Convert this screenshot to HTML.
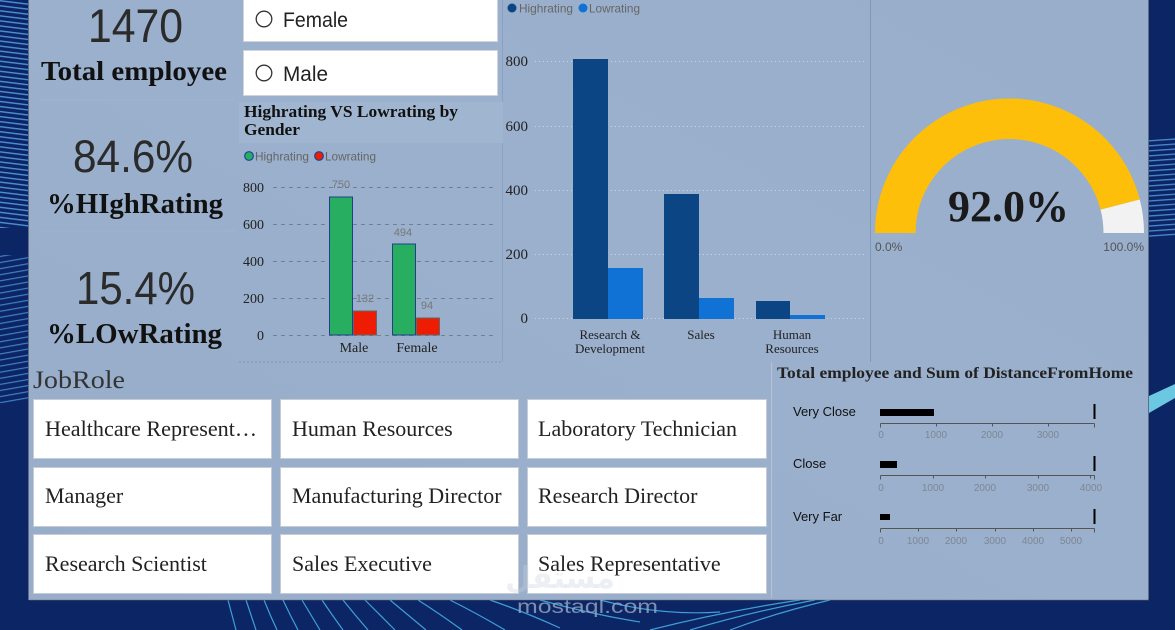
<!DOCTYPE html>
<html><head><meta charset="utf-8"><style>
html,body{margin:0;padding:0;width:1175px;height:630px;overflow:hidden;background:#0c2565;}
svg{display:block}
</style></head><body>
<svg width="1175" height="630" viewBox="0 0 1175 630" xmlns="http://www.w3.org/2000/svg">
<defs>
<pattern id="st1" width="8" height="5" patternUnits="userSpaceOnUse" patternTransform="rotate(7)">
<rect width="8" height="5" fill="#0c2565"/>
<rect y="0" width="8" height="1.4" fill="#4f8fd4"/>
</pattern>
<pattern id="st2" width="8" height="6" patternUnits="userSpaceOnUse" patternTransform="rotate(-10)">
<rect width="8" height="6" fill="#0c2565"/>
<rect y="0" width="8" height="1.2" fill="#3f7fc6"/>
</pattern>
<pattern id="st3" width="8" height="5" patternUnits="userSpaceOnUse" patternTransform="rotate(-4)">
<rect width="8" height="5" fill="#0c2565"/>
<rect y="0" width="8" height="1.3" fill="#4a8ad0"/>
</pattern>
<linearGradient id="pg" x1="0" y1="1" x2="1" y2="0">
<stop offset="0" stop-color="#97adca"/>
<stop offset="0.55" stop-color="#9ab0cc"/>
<stop offset="1" stop-color="#98aeca"/>
</linearGradient>
</defs>

<!-- background -->
<rect x="0" y="0" width="1175" height="630" fill="#0c2565"/>
<rect x="0" y="0" width="28" height="228" fill="url(#st1)"/>
<rect x="0" y="255" width="28" height="148" fill="url(#st2)"/>
<rect x="1149" y="138" width="26" height="100" fill="url(#st3)"/>
<polygon points="1149,396 1175,384 1175,398 1149,413" fill="#6cc8e0"/>
<g stroke="#3e9fd6" stroke-width="1.2" fill="none">
<path d="M228 600 Q232 615 236 630"/>
<path d="M246 600 Q251 615 256 630"/>
<path d="M264 600 Q270 615 277 630"/>
<path d="M283 600 Q290 615 298 630"/>
<path d="M302 600 Q311 615 320 630"/>
<path d="M322 600 Q332 615 343 630"/>
<path d="M343 600 Q355 615 368 630"/>
<path d="M365 600 Q380 615 395 630"/>
<path d="M390 600 Q408 615 426 630"/>
<path d="M418 600 Q440 614 462 630"/>
<path d="M450 600 Q478 614 505 630"/>
<path d="M490 600 Q525 612 560 628"/>
<path d="M540 600 Q590 614 640 622"/>
<path d="M600 600 Q660 616 720 612"/>
<path d="M650 630 Q720 612 800 600"/>
<path d="M690 630 Q750 612 815 600"/>
<path d="M730 630 Q775 613 830 600"/>
</g>

<!-- main panel -->
<rect x="28.5" y="-2" width="1120" height="602" fill="url(#pg)" stroke="#6f6f6f" stroke-width="1" stroke-dasharray="1 1"/>

<!-- faint separators -->
<line x1="40" y1="100" x2="235" y2="100" stroke="#a0b4cd" stroke-width="1"/>
<line x1="40" y1="231" x2="235" y2="231" stroke="#a0b4cd" stroke-width="1"/>
<line x1="502.5" y1="0" x2="502.5" y2="362" stroke="#8aa1bf" stroke-width="1"/>
<line x1="870.5" y1="0" x2="870.5" y2="362" stroke="#7f97b8" stroke-width="1"/>
<line x1="771.5" y1="362" x2="771.5" y2="598" stroke="#b5c3d4" stroke-width="1"/>
<line x1="239" y1="362" x2="503" y2="362" stroke="#8496ad" stroke-width="1" stroke-dasharray="2 2"/>

<!-- KPI column -->
<text x="88" y="42" font-family="Liberation Sans, sans-serif" font-size="47" fill="#2b2b2b" textLength="95" lengthAdjust="spacingAndGlyphs">1470</text>
<text x="41" y="80" font-family="Liberation Serif, serif" font-weight="bold" font-size="27" fill="#111" textLength="186" lengthAdjust="spacingAndGlyphs">Total employee</text>
<text x="73" y="172" font-family="Liberation Sans, sans-serif" font-size="45" fill="#2b2b2b" textLength="120" lengthAdjust="spacingAndGlyphs">84.6%</text>
<text x="47" y="213" font-family="Liberation Serif, serif" font-weight="bold" font-size="28" fill="#111" textLength="176" lengthAdjust="spacingAndGlyphs">%HIghRating</text>
<text x="76" y="304" font-family="Liberation Sans, sans-serif" font-size="46" fill="#2b2b2b" textLength="119" lengthAdjust="spacingAndGlyphs">15.4%</text>
<text x="47" y="343" font-family="Liberation Serif, serif" font-weight="bold" font-size="28" fill="#111" textLength="175" lengthAdjust="spacingAndGlyphs">%LOwRating</text>

<!-- slicers -->
<rect x="243.5" y="-1" width="254" height="42.5" fill="#fff" stroke="#cfd4da"/>
<circle cx="264" cy="19" r="7.8" fill="#fff" stroke="#333" stroke-width="1.3"/>
<text x="283" y="27" font-family="Liberation Sans, sans-serif" font-size="21" fill="#222" textLength="65" lengthAdjust="spacingAndGlyphs">Female</text>
<rect x="243.5" y="50.5" width="254" height="45" fill="#fff" stroke="#cfd4da"/>
<circle cx="264" cy="73" r="7.8" fill="#fff" stroke="#333" stroke-width="1.3"/>
<text x="283" y="81" font-family="Liberation Sans, sans-serif" font-size="21" fill="#222" textLength="45" lengthAdjust="spacingAndGlyphs">Male</text>

<!-- gender chart -->
<rect x="239" y="102" width="264" height="41" fill="#a0b5cf"/>
<text x="244" y="117" font-family="Liberation Serif, serif" font-weight="bold" font-size="17" fill="#111" textLength="214" lengthAdjust="spacingAndGlyphs">Highrating VS Lowrating by</text>
<text x="244" y="135" font-family="Liberation Serif, serif" font-weight="bold" font-size="17" fill="#111" textLength="56" lengthAdjust="spacingAndGlyphs">Gender</text>
<circle cx="249" cy="156" r="4.3" fill="#27ae60" stroke="#1b4594" stroke-width="1.2"/>
<text x="255" y="160.5" font-family="Liberation Sans, sans-serif" font-size="12" fill="#666" textLength="54" lengthAdjust="spacingAndGlyphs">Highrating</text>
<circle cx="319" cy="156" r="4.3" fill="#ee1c02" stroke="#1b4594" stroke-width="1.2"/>
<text x="325" y="160.5" font-family="Liberation Sans, sans-serif" font-size="12" fill="#666" textLength="51" lengthAdjust="spacingAndGlyphs">Lowrating</text>
<g stroke="#72808f" stroke-width="1" stroke-dasharray="4 4">
<line x1="273" y1="187.5" x2="497" y2="187.5"/>
<line x1="273" y1="224.5" x2="497" y2="224.5"/>
<line x1="273" y1="261.5" x2="497" y2="261.5"/>
<line x1="273" y1="298.5" x2="497" y2="298.5"/>
<line x1="273" y1="335.5" x2="497" y2="335.5"/>
</g>
<g font-family="Liberation Serif, serif" font-size="14" fill="#222" text-anchor="end">
<text x="264" y="192">800</text>
<text x="264" y="229">600</text>
<text x="264" y="266">400</text>
<text x="264" y="303">200</text>
<text x="264" y="340">0</text>
</g>
<rect x="329.5" y="197" width="23" height="138" fill="#27ae60" stroke="#233f8c" stroke-width="1"/>
<rect x="353.5" y="311" width="23" height="24" fill="#ee1c02" stroke="#666" stroke-width="1"/>
<rect x="392.5" y="244" width="23" height="91" fill="#27ae60" stroke="#233f8c" stroke-width="1"/>
<rect x="416.5" y="318" width="23" height="17" fill="#ee1c02" stroke="#666" stroke-width="1"/>
<g font-family="Liberation Sans, sans-serif" font-size="11" fill="#777" text-anchor="middle">
<text x="341" y="188">750</text>
<text x="365" y="302">132</text>
<text x="403" y="236">494</text>
<text x="427" y="309">94</text>
</g>
<g font-family="Liberation Serif, serif" font-size="14" fill="#222" text-anchor="middle">
<text x="354" y="352">Male</text>
<text x="417" y="352">Female</text>
</g>

<!-- department chart -->
<circle cx="512" cy="8" r="4.5" fill="#0b4584"/>
<text x="519" y="12.5" font-family="Liberation Sans, sans-serif" font-size="12" fill="#666" textLength="54" lengthAdjust="spacingAndGlyphs">Highrating</text>
<circle cx="583" cy="8" r="4.5" fill="#1172d6"/>
<text x="589" y="12.5" font-family="Liberation Sans, sans-serif" font-size="12" fill="#666" textLength="51" lengthAdjust="spacingAndGlyphs">Lowrating</text>
<g stroke="#c9d4e0" stroke-width="1" stroke-dasharray="1 3">
<line x1="535" y1="61.5" x2="867" y2="61.5"/>
<line x1="535" y1="126.5" x2="867" y2="126.5"/>
<line x1="535" y1="190.5" x2="867" y2="190.5"/>
<line x1="535" y1="254.5" x2="867" y2="254.5"/>
<line x1="535" y1="318.5" x2="867" y2="318.5"/>
</g>
<g font-family="Liberation Serif, serif" font-size="15" fill="#222" text-anchor="end">
<text x="528" y="66">800</text>
<text x="528" y="131">600</text>
<text x="528" y="195">400</text>
<text x="528" y="259">200</text>
<text x="528" y="323">0</text>
</g>
<rect x="573" y="59" width="35" height="260" fill="#0b4584"/>
<rect x="608" y="268" width="35" height="51" fill="#1172d6"/>
<rect x="664" y="194" width="35" height="125" fill="#0b4584"/>
<rect x="699" y="298" width="35" height="21" fill="#1172d6"/>
<rect x="756" y="301" width="34" height="18" fill="#0b4584"/>
<rect x="790" y="315" width="35" height="4" fill="#1172d6"/>
<g font-family="Liberation Serif, serif" font-size="13" fill="#222" text-anchor="middle">
<text x="610" y="339">Research &amp;</text>
<text x="610" y="353">Development</text>
<text x="701" y="339">Sales</text>
<text x="792" y="339">Human</text>
<text x="792" y="353">Resources</text>
</g>

<!-- gauge -->
<path d="M875 233 A134.5 134.5 0 0 1 1139.78 199.55 L1100.55 209.62 A94 94 0 0 0 915.5 233 Z" fill="#fdbf0a"/>
<path d="M1139.78 199.55 A134.5 134.5 0 0 1 1144 233 L1103.5 233 A94 94 0 0 0 1100.55 209.62 Z" fill="#f2f2f2"/>
<text x="948" y="221" font-family="Liberation Serif, serif" font-weight="bold" font-size="44" fill="#1a1a1a" textLength="121" lengthAdjust="spacingAndGlyphs">92.0%</text>
<text x="875" y="251" font-family="Liberation Sans, sans-serif" font-size="12" fill="#555">0.0%</text>
<text x="1144" y="251" font-family="Liberation Sans, sans-serif" font-size="12" fill="#555" text-anchor="end">100.0%</text>

<!-- job role -->
<text x="33" y="388" font-family="Liberation Serif, serif" font-size="25" fill="#333" textLength="92" lengthAdjust="spacingAndGlyphs">JobRole</text>
<g fill="#fff" stroke="#c6ccd3" stroke-width="1">
<rect x="33.5" y="399.5" width="238" height="59"/>
<rect x="280.5" y="399.5" width="238" height="59"/>
<rect x="527.5" y="399.5" width="239" height="59"/>
<rect x="33.5" y="467.5" width="238" height="59"/>
<rect x="280.5" y="467.5" width="238" height="59"/>
<rect x="527.5" y="467.5" width="239" height="59"/>
<rect x="33.5" y="534.5" width="238" height="59"/>
<rect x="280.5" y="534.5" width="238" height="59"/>
<rect x="527.5" y="534.5" width="239" height="59"/>
</g>
<g font-family="Liberation Serif, serif" font-size="22" fill="#222">
<text x="45" y="436" textLength="212" lengthAdjust="spacingAndGlyphs">Healthcare Represent…</text>
<text x="292" y="436">Human Resources</text>
<text x="538" y="436">Laboratory Technician</text>
<text x="45" y="503">Manager</text>
<text x="292" y="503">Manufacturing Director</text>
<text x="538" y="503">Research Director</text>
<text x="45" y="571">Research Scientist</text>
<text x="292" y="571">Sales Executive</text>
<text x="538" y="571">Sales Representative</text>
</g>

<!-- watermark -->
<text x="560" y="588" font-family="DejaVu Sans, sans-serif" font-size="30" font-weight="bold" fill="#c8d0dc" fill-opacity="0.35" text-anchor="middle">مستقل</text>
<text x="517" y="613" font-family="Liberation Sans, sans-serif" font-size="19" fill="#9aa8c0" fill-opacity="0.8" textLength="141" lengthAdjust="spacingAndGlyphs">mostaql.com</text>

<!-- distance chart -->
<text x="777" y="378" font-family="Liberation Serif, serif" font-weight="bold" font-size="16" fill="#222" textLength="356" lengthAdjust="spacingAndGlyphs">Total employee and Sum of DistanceFromHome</text>
<g font-family="Liberation Sans, sans-serif" font-size="13" fill="#111">
<text x="793" y="416">Very Close</text>
<text x="793" y="468">Close</text>
<text x="793" y="521">Very Far</text>
</g>
<!-- row 1 -->
<rect x="880" y="409" width="54" height="7" fill="#000"/>
<rect x="1093.5" y="404" width="2" height="15" fill="#000"/>
<g stroke="#555" stroke-width="1" fill="none">
<line x1="880.5" y1="423.5" x2="1094.5" y2="423.5"/>
<line x1="880.5" y1="423.5" x2="880.5" y2="427.5"/>
<line x1="936.5" y1="423.5" x2="936.5" y2="426.5"/>
<line x1="992.5" y1="423.5" x2="992.5" y2="426.5"/>
<line x1="1048.5" y1="423.5" x2="1048.5" y2="426.5"/>
<line x1="1094.5" y1="423.5" x2="1094.5" y2="427.5"/>
</g>
<g font-family="Liberation Sans, sans-serif" font-size="10" fill="#7d8794" text-anchor="middle">
<text x="881" y="438">0</text>
<text x="936" y="438">1000</text>
<text x="992" y="438">2000</text>
<text x="1048" y="438">3000</text>
</g>
<!-- row 2 -->
<rect x="880" y="461" width="17" height="7" fill="#000"/>
<rect x="1093.5" y="456" width="2" height="15" fill="#000"/>
<g stroke="#555" stroke-width="1" fill="none">
<line x1="880.5" y1="475.5" x2="1094.5" y2="475.5"/>
<line x1="880.5" y1="475.5" x2="880.5" y2="479.5"/>
<line x1="933.5" y1="475.5" x2="933.5" y2="478.5"/>
<line x1="985.5" y1="475.5" x2="985.5" y2="478.5"/>
<line x1="1038.5" y1="475.5" x2="1038.5" y2="478.5"/>
<line x1="1090.5" y1="475.5" x2="1090.5" y2="478.5"/>
<line x1="1094.5" y1="475.5" x2="1094.5" y2="479.5"/>
</g>
<g font-family="Liberation Sans, sans-serif" font-size="10" fill="#7d8794" text-anchor="middle">
<text x="881" y="491">0</text>
<text x="933" y="491">1000</text>
<text x="985" y="491">2000</text>
<text x="1038" y="491">3000</text>
<text x="1091" y="491">4000</text>
</g>
<!-- row 3 -->
<rect x="880" y="514" width="10" height="6" fill="#000"/>
<rect x="1093.5" y="509" width="2" height="15" fill="#000"/>
<g stroke="#555" stroke-width="1" fill="none">
<line x1="880.5" y1="528.5" x2="1094.5" y2="528.5"/>
<line x1="880.5" y1="528.5" x2="880.5" y2="532.5"/>
<line x1="918.5" y1="528.5" x2="918.5" y2="531.5"/>
<line x1="956.5" y1="528.5" x2="956.5" y2="531.5"/>
<line x1="995.5" y1="528.5" x2="995.5" y2="531.5"/>
<line x1="1033.5" y1="528.5" x2="1033.5" y2="531.5"/>
<line x1="1071.5" y1="528.5" x2="1071.5" y2="531.5"/>
<line x1="1094.5" y1="528.5" x2="1094.5" y2="532.5"/>
</g>
<g font-family="Liberation Sans, sans-serif" font-size="10" fill="#7d8794" text-anchor="middle">
<text x="881" y="544">0</text>
<text x="918" y="544">1000</text>
<text x="956" y="544">2000</text>
<text x="995" y="544">3000</text>
<text x="1033" y="544">4000</text>
<text x="1071" y="544">5000</text>
</g>
</svg>
</body></html>
